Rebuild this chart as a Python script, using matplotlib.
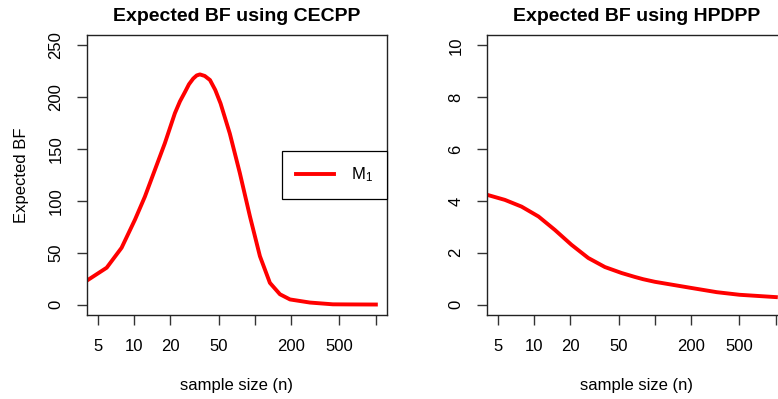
import matplotlib
matplotlib.use("Agg")
import matplotlib.pyplot as plt

plt.rcParams["font.family"] = ["Liberation Sans", "DejaVu Sans"]
plt.rcParams["mathtext.fontset"] = "custom"
plt.rcParams["mathtext.rm"] = "Liberation Sans"

# --- data (sample size n vs expected BF) ---
cecpp_n = [4, 5.95, 7.9, 10.2, 12.3, 14.9, 18.0, 21.8, 24, 26.4, 28.5, 30.9,
           33, 35.1, 38.5, 42.5, 47, 52, 62, 75, 91, 110, 133, 161, 195, 285,
           441, 600, 1000]
cecpp_bf = [22.5, 35.6, 54.8, 82, 104, 130, 155.6, 184.6, 196, 205, 212.5, 218,
            221, 222, 220.5, 216.6, 207, 194, 165, 127, 85, 46.7, 21, 10, 5, 2,
            0.3, 0.2, 0.1]

hpdpp_n = [4, 5.75, 7.9, 10.9, 14.9, 20.4, 28.1, 38.6, 53, 68, 80, 100, 196,
           325, 500, 1000]
hpdpp_bf = [4.25, 4.04, 3.78, 3.4, 2.88, 2.31, 1.8, 1.45, 1.22, 1.07, 0.98,
            0.88, 0.65, 0.48, 0.38, 0.29]

x_ticks = [5, 10, 20, 50, 100, 200, 500, 1000]
x_ticklabels = ["5", "10", "20", "50", "", "200", "500", ""]
cecpp_yticks = [0, 50, 100, 150, 200, 250]
hpdpp_yticks = [0, 2, 4, 6, 8, 10]

W, H = 778, 399
fig = plt.figure(figsize=(W / 100, H / 100), dpi=100)
ax1 = fig.add_axes([87 / W, 84 / H, 300 / W, 280 / H])
ax2 = fig.add_axes([487 / W, 84 / H, 300 / W, 280 / H])

for ax, n, bf, yt, ylim, title in [
    (ax1, cecpp_n, cecpp_bf, cecpp_yticks, (-10, 260), "Expected BF using CECPP"),
    (ax2, hpdpp_n, hpdpp_bf, hpdpp_yticks, (-0.4, 10.4), "Expected BF using HPDPP"),
]:
    ax.plot(n, bf, color="red", linewidth=2.8, label=r"$\mathregular{M_1}$",
            solid_joinstyle="round")
    ax.set_xscale("log")
    ax.set_xlim(4.09, 1236)
    ax.set_ylim(*ylim)
    ax.set_xticks(x_ticks)
    ax.set_xticklabels(x_ticklabels)
    ax.minorticks_off()
    ax.set_yticks(yt)
    ax.set_yticklabels([str(v) for v in yt], rotation=90, va="center")
    ax.tick_params(axis="both", direction="out", length=7, width=1,
                   labelsize=12, color="#333333")
    ax.tick_params(axis="x", pad=10.5)
    ax.tick_params(axis="y", pad=10)
    for s in ax.spines.values():
        s.set_linewidth(1)
        s.set_color("#222222")
    ax.set_title(title, fontsize=14, fontweight="bold", pad=10)
    ax.set_xlabel("sample size (n)", fontsize=12, labelpad=17)

ax1.set_ylabel("Expected BF", fontsize=12, labelpad=14)
leg = ax1.legend(loc="center right", bbox_to_anchor=(1.0, 0.5), borderaxespad=0,
                 fontsize=12, handlelength=2.3, borderpad=0.85, handletextpad=1.0,
                 fancybox=False, edgecolor="black", framealpha=1)
leg.get_frame().set_linewidth(0.9)

fig.savefig("out.png", dpi=100, facecolor="white")
